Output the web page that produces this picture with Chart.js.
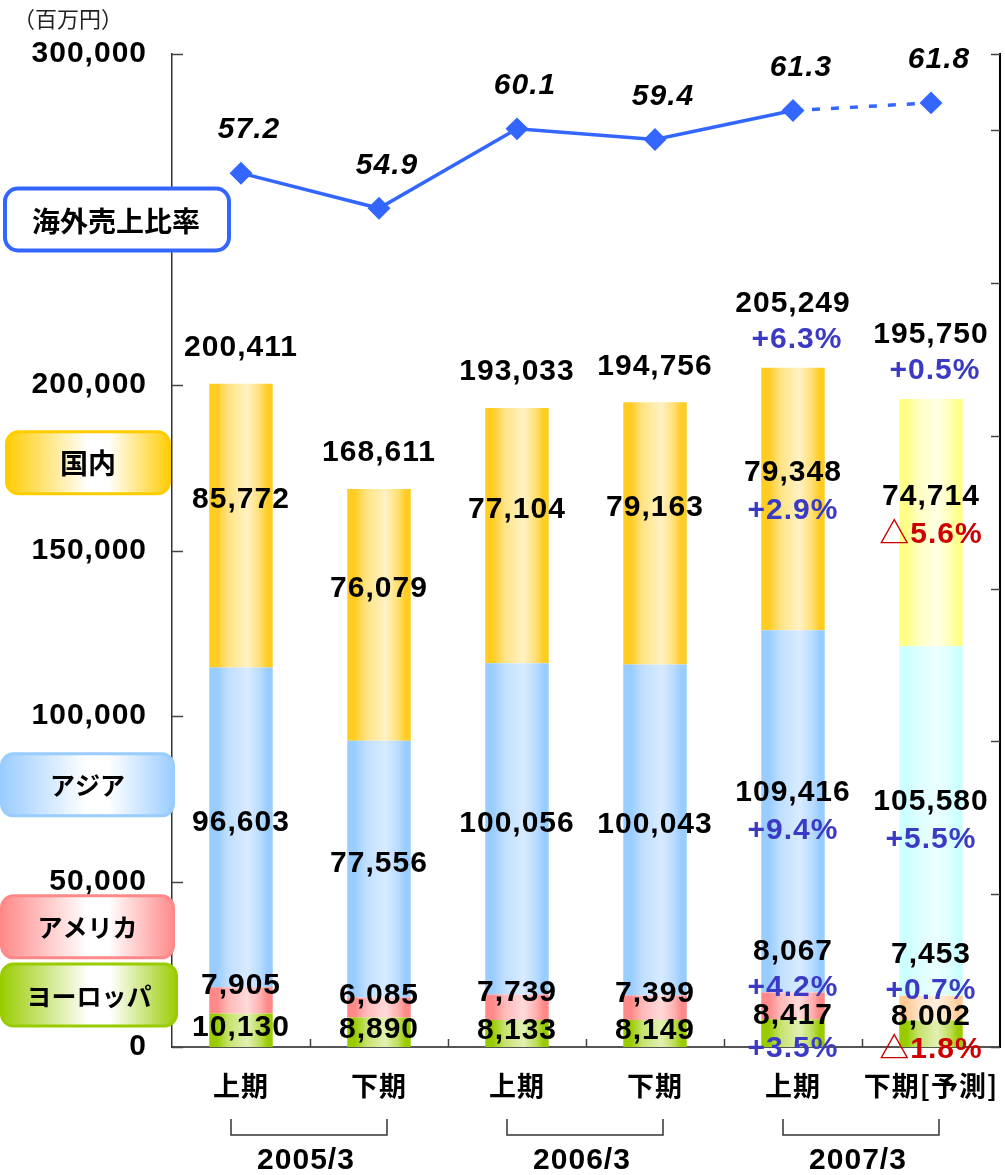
<!DOCTYPE html>
<html>
<head>
<meta charset="utf-8">
<script src="https://cdn.jsdelivr.net/npm/chart.js@4.4.1/dist/chart.umd.min.js"></script>
<style>
    body { margin: 0; background: #fff; }
</style>
</head>
<body>
<canvas id="myChart" width="1005" height="1175"></canvas>
<script>
//Chart data
var periods = ['上期', '下期', '上期', '下期', '上期', '下期[予測]'];
var fiscalYears = ['2005/3', '2006/3', '2007/3'];
var regions = ['ヨーロッパ', 'アメリカ', 'アジア', '国内'];
var europe = [10130, 8890, 8133, 8149, 8417, 8002];
var america = [7905, 6085, 7739, 7399, 8067, 7453];
var asia = [96603, 77556, 100056, 100043, 109416, 105580];
var domestic = [85772, 76079, 77104, 79163, 79348, 74714];
var totals = [200411, 168611, 193033, 194756, 205249, 195750];
//overseas sales ratio (%)
var overseasRatio = [57.2, 54.9, 60.1, 59.4, 61.3, 61.8];
//change vs. previous year
var totalChange = [null, null, null, null, '+6.3%', '+0.5%'];
var domesticChange = [null, null, null, null, '+2.9%', '△5.6%'];
var asiaChange = [null, null, null, null, '+9.4%', '+5.5%'];
var americaChange = [null, null, null, null, '+4.2%', '+0.7%'];
var europeChange = [null, null, null, null, '+3.5%', '△1.8%'];

var BAR_PCT = 0.46;
var NUM_FONT = 'bold 30px "Liberation Sans", "Noto Sans CJK JP", sans-serif';
var JP_FONT = '"Noto Sans CJK JP", "Liberation Sans", sans-serif';

function hexToRgb(h) {
    return [parseInt(h.substr(1, 2), 16), parseInt(h.substr(3, 2), 16), parseInt(h.substr(5, 2), 16)];
}
function mix(a, b, t) {
    var x = hexToRgb(a), y = hexToRgb(b);
    return 'rgb(' + [0, 1, 2].map(function (k) { return Math.round(x[k] + (y[k] - x[k]) * t); }).join(',') + ')';
}

//horizontal gradient across each bar, last bar (forecast) uses its own colours
function barFill(normal, forecast) {
    return function (context) {
        var chart = context.chart;
        var xs = chart.scales.x;
        var c = context.dataIndex === 5 ? forecast : normal;
        if (!xs || context.type !== 'data') return c[0];
        var cx = xs.getPixelForValue(context.dataIndex);
        var half = xs.width / periods.length * BAR_PCT / 2;
        if (!isFinite(cx) || !isFinite(half) || half <= 0) return c[0];
        var g = chart.ctx.createLinearGradient(cx - half, 0, cx + half, 0);
        g.addColorStop(0, c[0]);
        g.addColorStop(0.12, c[0]);
        g.addColorStop(0.3, mix(c[0], c[1], 0.6));
        g.addColorStop(0.6, c[1]);
        g.addColorStop(0.8, mix(c[0], c[1], 0.5));
        g.addColorStop(0.92, c[0]);
        g.addColorStop(1, c[0]);
        return g;
    };
}

function fmt(v) {
    return v.toLocaleString('en-US');
}

function changeColor(s) {
    return s.charAt(0) === '△' ? '#cc0000' : '#3a3ac4';
}

//value labels on bars and line
var labelPlugin = {
    id: 'valueLabels',
    afterDatasetsDraw: function (chart) {
        var ctx = chart.ctx;
        var line = chart.getDatasetMeta(0).data;
        var eu = chart.getDatasetMeta(1).data;
        var am = chart.getDatasetMeta(2).data;
        var as = chart.getDatasetMeta(3).data;
        var dm = chart.getDatasetMeta(4).data;
        ctx.save();
        ctx.textAlign = 'center';
        ctx.textBaseline = 'middle';
        ctx.letterSpacing = '1px';

        function put(text, x, y, color) {
            ctx.font = NUM_FONT;
            ctx.fillStyle = color || '#000';
            ctx.fillText(text, x, y);
        }

        for (var i = 0; i < periods.length; i++) {
            var x = eu[i].x;
            //Europe
            var c = (eu[i].y + eu[i].base) / 2;
            if (europeChange[i]) {
                put(fmt(europe[i]), x, c - 17);
                put(europeChange[i], x, c + 16, changeColor(europeChange[i]));
            } else {
                put(fmt(europe[i]), x, c - 3);
            }
            //America
            if (americaChange[i]) {
                put(fmt(america[i]), x, am[i].y - 41);
                put(americaChange[i], x, am[i].y - 5, changeColor(americaChange[i]));
            } else {
                put(fmt(america[i]), x, am[i].y - 2);
            }
            //Asia
            c = (as[i].y + as[i].base) / 2;
            if (asiaChange[i]) {
                put(fmt(asia[i]), x, c - 19);
                put(asiaChange[i], x, c + 19, changeColor(asiaChange[i]));
            } else {
                put(fmt(asia[i]), x, c - 5);
            }
            //Domestic
            c = (dm[i].y + dm[i].base) / 2;
            put(fmt(domestic[i]), x, c - 26);
            if (domesticChange[i]) {
                put(domesticChange[i], x, c + 12, changeColor(domesticChange[i]));
            }
            //Total
            if (totalChange[i]) {
                put(fmt(totals[i]), x, dm[i].y - 64);
                put(totalChange[i], x + 4, dm[i].y - 28, changeColor(totalChange[i]));
            } else {
                put(fmt(totals[i]), x, dm[i].y - 36);
            }
            //ratio
            ctx.font = 'italic ' + NUM_FONT;
            ctx.fillStyle = '#000';
            ctx.fillText(overseasRatio[i].toFixed(1), line[i].x + 8, line[i].y - 43);
        }
        ctx.restore();
    }
};

function roundRect(ctx, x, y, w, h, r) {
    ctx.beginPath();
    ctx.moveTo(x + r, y);
    ctx.arcTo(x + w, y, x + w, y + h, r);
    ctx.arcTo(x + w, y + h, x, y + h, r);
    ctx.arcTo(x, y + h, x, y, r);
    ctx.arcTo(x, y, x + w, y, r);
    ctx.closePath();
}

//inward tick marks, year brackets, region boxes, unit
var decorPlugin = {
    id: 'decor',
    afterDraw: function (chart) {
        var ctx = chart.ctx;
        var xs = chart.scales.x, ys = chart.scales.y, y2 = chart.scales.y2;
        var area = chart.chartArea;
        ctx.save();
        ctx.strokeStyle = '#444';
        ctx.lineWidth = 1.5;
        ctx.beginPath();
        ys.ticks.forEach(function (t) {
            var py = Math.round(ys.getPixelForValue(t.value)) + 0.5;
            ctx.moveTo(area.left, py);
            ctx.lineTo(area.left + 11, py);
        });
        y2.ticks.forEach(function (t) {
            var py = Math.round(y2.getPixelForValue(t.value)) + 0.5;
            ctx.moveTo(area.right, py);
            ctx.lineTo(area.right - 9, py);
        });
        var step = xs.width / periods.length;
        for (var k = 1; k < periods.length; k++) {
            var px = Math.round(area.left + step * k) + 0.5;
            ctx.moveTo(px, area.bottom);
            ctx.lineTo(px, area.bottom - 8);
        }
        ctx.stroke();

        //fiscal year brackets
        ctx.strokeStyle = '#333';
        ctx.lineWidth = 1.5;
        ctx.fillStyle = '#000';
        ctx.font = NUM_FONT;
        ctx.textAlign = 'center';
        ctx.textBaseline = 'middle';
        ctx.letterSpacing = '1px';
        fiscalYears.forEach(function (fy, j) {
            var a = xs.getPixelForValue(j * 2) - 10;
            var b = xs.getPixelForValue(j * 2 + 1) + 8;
            var top = area.bottom + 72, bot = area.bottom + 88;
            ctx.beginPath();
            ctx.moveTo(a, top);
            ctx.lineTo(a, bot);
            ctx.lineTo(b, bot);
            ctx.lineTo(b, top);
            ctx.stroke();
            ctx.fillText(fy, (a + b) / 2 - 3, area.bottom + 114);
        });

        //unit
        ctx.letterSpacing = '0px';
        ctx.font = '22px ' + JP_FONT;
        ctx.fillStyle = '#222';
        ctx.textAlign = 'left';
        ctx.fillText('（百万円）', 13, 19);

        //region boxes
        var boxes = [
            { text: regions[3], v: 176500, w: 166, x: 5, color: '#ffcc00', size: 28 },
            { text: regions[2], v: 79200, w: 175, x: 0, color: '#99ccff', size: 25 },
            { text: regions[1], v: 36300, w: 175, x: 0, color: '#ff8888', size: 25 },
            { text: regions[0], v: 15700, w: 178, x: 0, color: '#99cc00', size: 25 }
        ];
        ctx.textAlign = 'center';
        boxes.forEach(function (b) {
            var cy = ys.getPixelForValue(b.v);
            var g = ctx.createLinearGradient(b.x, 0, b.x + b.w, 0);
            g.addColorStop(0, b.color);
            g.addColorStop(0.5, '#ffffff');
            g.addColorStop(0.62, '#ffffff');
            g.addColorStop(1, b.color);
            roundRect(ctx, b.x + 1.5, cy - 31, b.w - 3, 62, 12);
            ctx.fillStyle = g;
            ctx.fill();
            ctx.strokeStyle = b.color;
            ctx.lineWidth = 3;
            ctx.stroke();
            ctx.fillStyle = '#000';
            ctx.font = 'bold ' + b.size + 'px ' + JP_FONT;
            ctx.fillText(b.text, b.x + b.w / 2, cy + 1);
        });

        //overseas ratio box
        var ry = ys.getPixelForValue(250000);
        roundRect(ctx, 5, ry - 31, 224, 62, 13);
        ctx.fillStyle = '#fff';
        ctx.fill();
        ctx.strokeStyle = '#3366ff';
        ctx.lineWidth = 4;
        ctx.stroke();
        ctx.fillStyle = '#000';
        ctx.font = 'bold 28px ' + JP_FONT;
        ctx.fillText('海外売上比率', 116, ry + 2);
        ctx.restore();
    }
};

const ctx = document.getElementById('myChart');
const myChart = new Chart(ctx, {
    type: 'bar',
    data: {
        labels: periods,
        datasets: [{
            type: 'line',
            label: '海外売上比率',
            data: overseasRatio,
            yAxisID: 'y2',
            borderColor: '#3366ff',
            backgroundColor: '#3366ff',
            borderWidth: 3.5,
            pointStyle: 'rectRot',
            pointRadius: 9,
            pointHoverRadius: 9,
            tension: 0,
            segment: {
                borderDash: function (c) { return c.p0DataIndex === 4 ? [8, 11] : undefined; }
            }
        }, {
            label: regions[0],
            data: europe,
            backgroundColor: barFill(['#99cc00', '#e2f0b4'], ['#99cc00', '#e2f0b4']),
            stack: 's'
        }, {
            label: regions[1],
            data: america,
            backgroundColor: barFill(['#ff8888', '#ffdada'], ['#ffcc99', '#ffeedd']),
            stack: 's'
        }, {
            label: regions[2],
            data: asia,
            backgroundColor: barFill(['#99ccff', '#d8ebff'], ['#ccffff', '#eaffff']),
            stack: 's'
        }, {
            label: regions[3],
            data: domestic,
            backgroundColor: barFill(['#ffcc22', '#fff2c4'], ['#ffff88', '#ffffe6']),
            stack: 's'
        }]
    },
    options: {
        responsive: false,
        animation: false,
        barPercentage: BAR_PCT,
        categoryPercentage: 1,
        layout: { autoPadding: false, padding: { top: 54, left: 0, right: 0, bottom: 0 } },
        plugins: {
            legend: { display: false },
            tooltip: { enabled: false }
        },
        scales: {
            x: {
                stacked: true,
                offset: true,
                grid: { display: false, drawTicks: false },
                border: { display: true, color: '#555', width: 2 },
                ticks: {
                    color: '#000',
                    padding: 23,
                    maxRotation: 0,
                    autoSkip: false,
                    font: { family: JP_FONT, size: 27, weight: 'bold' }
                },
                afterFit: function (s) {
                    s.height = 128;
                    s.paddingLeft = 0;
                    s.paddingRight = 0;
                }
            },
            y: {
                stacked: true,
                position: 'left',
                min: 0,
                max: 300000,
                grid: { display: false, drawTicks: false },
                border: { display: true, color: '#333', width: 1.5 },
                ticks: {
                    stepSize: 50000,
                    color: '#000',
                    padding: 25,
                    font: { family: '"Liberation Sans", Arial, sans-serif', size: 30, weight: 'bold' },
                    callback: function (v) { return fmt(v); }
                },
                afterFit: function (s) { s.width = 172; }
            },
            y2: {
                position: 'right',
                min: 0,
                max: 65,
                grid: { display: false, drawTicks: false },
                border: { display: true, color: '#000', width: 2 },
                ticks: { stepSize: 10, display: false },
                afterFit: function (s) { s.width = 5; }
            }
        }
    },
    plugins: [labelPlugin, decorPlugin, {
        id: 'spacing',
        beforeDraw: function (chart) { chart.ctx.letterSpacing = '1px'; }
    }]
});
</script>
</body>
</html>
